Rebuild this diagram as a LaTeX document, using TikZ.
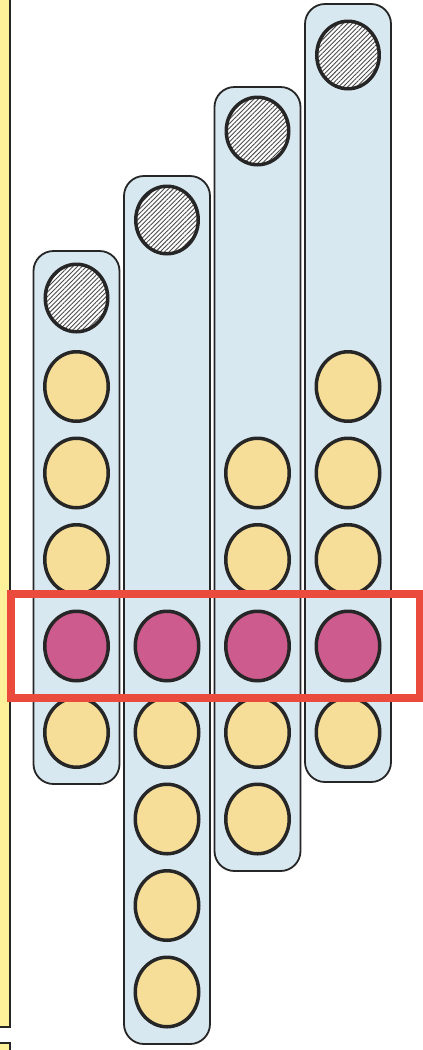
\documentclass[tikz,border=0pt]{standalone}
\usetikzlibrary{shapes.geometric,patterns.meta}
\definecolor{pillblue}{HTML}{D8E8F1}
\definecolor{ballyellow}{HTML}{F7DE98}
\definecolor{ballpink}{HTML}{CE5B8E}
\definecolor{framered}{HTML}{EA4B3C}
\definecolor{stripyellow}{HTML}{FFF19A}
\definecolor{inkline}{HTML}{262626}
\begin{document}
\begin{tikzpicture}[x=1pt,y=-1pt,
  pill/.style={draw=inkline, line width=1.8pt, fill=pillblue, rounded corners=20pt,
    minimum width=86pt, inner sep=0pt},
  ball/.style={ellipse, draw=inkline, line width=3.5pt, minimum width=63.5pt,
    minimum height=69.5pt, inner sep=0pt},
  yball/.style={ball, fill=ballyellow},
  pball/.style={ball, fill=ballpink},
  hball/.style={ball, minimum width=62.5pt, minimum height=67.5pt,
    preaction={fill=white},
    pattern={Lines[angle=45,distance=3.2pt,line width=0.9pt]}, pattern color=black!70},
  band/.style={draw=framered, line width=7.5pt, inner sep=0pt}]
\fill[white] (0,0) rectangle (423,1050);
\useasboundingbox (0,0) rectangle (423,1050);
% left strip
\fill[stripyellow] (0,0) rectangle (10,1027);
\draw[inkline, line width=2pt] (-2,1027) -- (10,1027) -- (10,-2);
\fill[stripyellow] (0,1043) rectangle (10,1052);
\draw[inkline, line width=2pt] (-2,1043) -- (10,1043) -- (10,1052);
% pills
\node[pill, minimum height=533pt] (p1) at (76.5,517.5) {};
\node[pill, minimum height=868pt] (p2) at (167,610) {};
\node[pill, minimum height=784pt] (p3) at (257.5,479) {};
\node[pill, minimum height=778pt] (p4) at (348,393) {};
% column 1
\node[hball] (a0) at (76.5,298) {};
\node[yball] (a1) at (76.5,386.5) {};
\node[yball] (a2) at (76.5,473) {};
\node[yball] (a3) at (76.5,559.5) {};
\node[pball] (a4) at (76.5,646) {};
\node[yball] (a5) at (76.5,732.5) {};
% column 2
\node[hball] (b0) at (167,220) {};
\node[pball] (b4) at (167,646) {};
\node[yball] (b5) at (167,732.5) {};
\node[yball] (b6) at (167,819) {};
\node[yball] (b7) at (167,905.5) {};
\node[yball] (b8) at (167,992) {};
% column 3
\node[hball] (c0) at (257.5,131) {};
\node[yball] (c2) at (257.5,473) {};
\node[yball] (c3) at (257.5,559.5) {};
\node[pball] (c4) at (257.5,646) {};
\node[yball] (c5) at (257.5,732.5) {};
\node[yball] (c6) at (257.5,819) {};
% column 4
\node[hball] (d0) at (348,55) {};
\node[yball] (d1) at (348,386.5) {};
\node[yball] (d2) at (348,473) {};
\node[yball] (d3) at (348,559.5) {};
\node[pball] (d4) at (348,646) {};
\node[yball] (d5) at (348,732.5) {};
% red band
\node[band, minimum width=409pt, minimum height=104pt] (rb) at (215.5,646) {};
\end{tikzpicture}
\end{document}
